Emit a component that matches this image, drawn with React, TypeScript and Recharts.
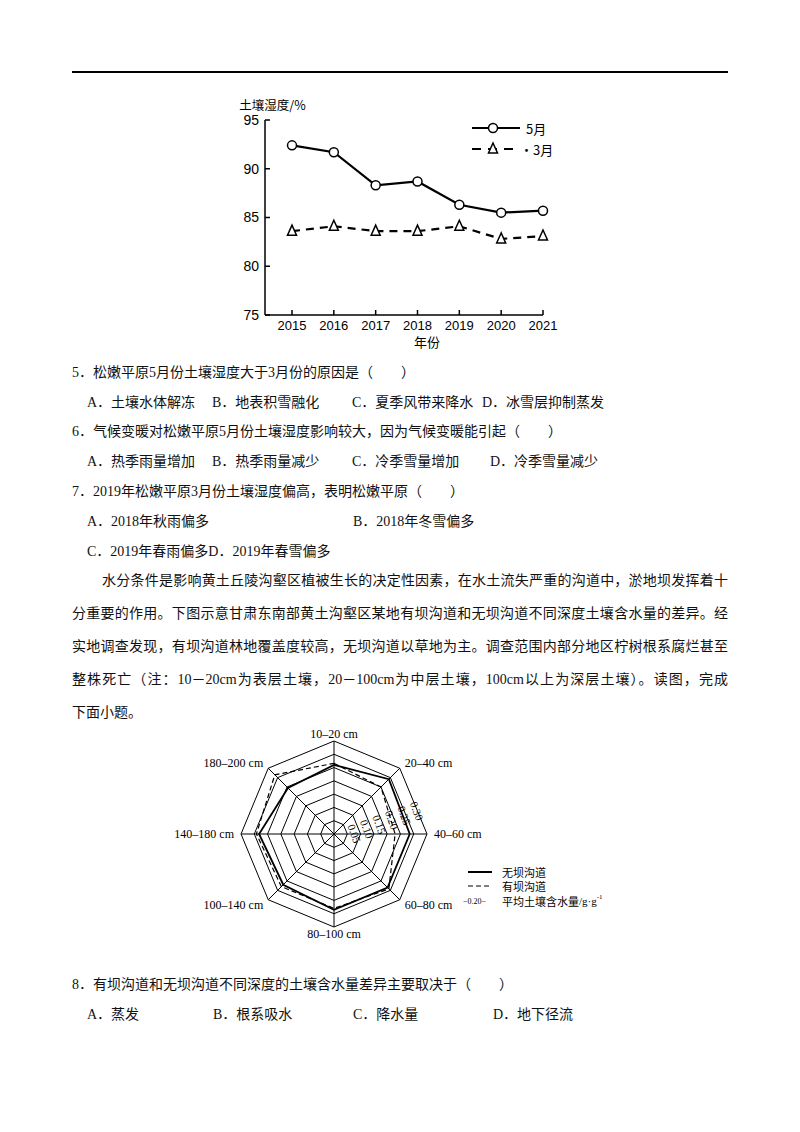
import React from 'react';
import {
  LineChart, Line, XAxis, YAxis, Legend, Label,
  RadarChart, Radar, PolarGrid, PolarAngleAxis, PolarRadiusAxis,
} from 'recharts';

// line chart: soil humidity in March / May
const years = ['2015', '2016', '2017', '2018', '2019', '2020', '2021'];
const mayHumidity = [92.4, 91.7, 88.3, 88.7, 86.3, 85.5, 85.7];
const marchHumidity = [83.6, 84.1, 83.6, 83.6, 84.1, 82.8, 83.1];
const humidityTicks = [75, 80, 85, 90, 95];

// radar chart: soil water content by depth
const depths = ['10–20 cm', '20–40 cm', '40–60 cm', '60–80 cm', '80–100 cm', '100–140 cm', '140–180 cm', '180–200 cm'];
const noDamWater = [0.26, 0.292, 0.285, 0.285, 0.285, 0.27, 0.282, 0.245];
const damWater = [0.266, 0.25, 0.23, 0.292, 0.28, 0.28, 0.292, 0.315];
const waterTicks = [0, 0.05, 0.1, 0.15, 0.2, 0.25, 0.3, 0.35];

const humidityData = years.map((year, i) => ({ year, may: mayHumidity[i], march: marchHumidity[i] }));
const waterData = depths.map((depth, i) => ({ depth, noDam: noDamWater[i], dam: damWater[i] }));

const SANS = "'Liberation Sans', Arial, sans-serif";
const SERIF = "'Liberation Serif', 'Times New Roman', serif";
const PAGE_FONT = "'Liberation Serif', 'Noto Sans CJK SC', serif";
const CJK = "'Noto Sans CJK SC', sans-serif";

const TriangleDot = (props: any) => {
  const { cx, cy } = props;
  if (cx == null || cy == null) return null;
  return (
    <polygon
      points={`${cx},${cy - 6} ${cx - 4.5},${cy + 4} ${cx + 4.5},${cy + 4}`}
      fill="#fff" stroke="#000" strokeWidth={1.5}
    />
  );
};

const lineLegend = () => (
  <svg width={90} height={42} style={{ overflow: 'visible' }}>
    <line x1={0} x2={48} y1={8} y2={8} stroke="#000" strokeWidth={2.2} />
    <circle cx={21} cy={8} r={4.5} fill="#fff" stroke="#000" strokeWidth={1.5} />
    <text x={54} y={8} dominantBaseline="central" fontSize={13} fontFamily={CJK}>5月</text>
    <line x1={0} x2={44} y1={29} y2={29} stroke="#000" strokeWidth={2.2} strokeDasharray="9 7" />
    <polygon points="21,23 16.5,33 25.5,33" fill="#fff" stroke="#000" strokeWidth={1.5} />
    <text x={48} y={29} dominantBaseline="central" fontSize={13} fontFamily={CJK}>·3月</text>
  </svg>
);

const radarLegend = () => (
  <svg width={180} height={44} style={{ overflow: 'visible' }}>
    <line x1={5} x2={29} y1={6} y2={6} stroke="#000" strokeWidth={2} />
    <text x={39} y={6} dominantBaseline="central" fontSize={11} fontFamily={CJK}>无坝沟道</text>
    <line x1={5} x2={29} y1={20} y2={20} stroke="#000" strokeWidth={1.2} strokeDasharray="5 3" />
    <text x={39} y={20} dominantBaseline="central" fontSize={11} fontFamily={CJK}>有坝沟道</text>
    <text x={0} y={35} dominantBaseline="central" fontSize={8} fontFamily={SERIF}>−0.20−</text>
    <text x={39} y={35} dominantBaseline="central" fontSize={11} fontFamily={CJK}>
      平均土壤含水量<tspan fontFamily={SERIF}>/g·g</tspan><tspan dy={-4} fontSize={7} fontFamily={SERIF}>-1</tspan>
    </text>
  </svg>
);

const DepthTick = (props: any) => {
  const { x, y, textAnchor, payload } = props;
  return (
    <text x={x} y={y} textAnchor={textAnchor} dominantBaseline="central"
      fontSize={12} fontFamily={SERIF} fill="#000">
      {payload.value}
    </text>
  );
};

const WaterTick = (props: any) => {
  const { x, y, transform, payload } = props;
  const v = Number(payload.value);
  if (v <= 0 || v > 0.31) return null;
  return (
    <text x={x} y={y} transform={transform} textAnchor="start" dx={-3} dy={-2}
      fontSize={11} fontFamily={SERIF} fill="#000">
      {v.toFixed(2)}
    </text>
  );
};

const Txt = ({ x, y, children }: { x: number; y: number; children: React.ReactNode }) => (
  <div style={{ position: 'absolute', left: x, top: y - 10, lineHeight: '20px', whiteSpace: 'nowrap' }}>
    {children}
  </div>
);

const JLine = ({ x, y, w, last, children }: { x: number; y: number; w: number; last?: boolean; children: React.ReactNode }) => (
  <div style={{
    position: 'absolute', left: x, top: y - 10, width: w, lineHeight: '20px',
    textAlign: last ? 'left' : 'justify', textAlignLast: last ? 'left' : 'justify',
  }}>
    {children}
  </div>
);

export default function App() {
  return (
    <div style={{ position: 'relative', width: 800, height: 1132, background: '#fff', color: '#111', fontFamily: PAGE_FONT, fontSize: 14 }}>
      <style>{'body{margin:0}'}</style>
      <div style={{ position: 'absolute', left: 72, top: 71, width: 656, height: 2, background: '#000' }} />

      <div style={{ position: 'absolute', left: 200, top: 95 }}>
        <LineChart width={380} height={260} data={humidityData} margin={{ top: 25, right: 37, bottom: 10, left: 0 }}>
          <XAxis dataKey="year" height={30} padding={{ left: 27, right: 0 }} interval={0}
            axisLine={{ stroke: '#000', strokeWidth: 1.5 }} tickLine={{ stroke: '#000', strokeWidth: 1.5 }}
            tickSize={-5} tickMargin={11} tick={{ fill: '#000', fontSize: 13, fontFamily: SANS }}>
            <Label value="年份" position="insideBottom" offset={-2} dx={23} fontSize={13} fontFamily={CJK} fill="#000" />
          </XAxis>
          <YAxis width={65} domain={[75, 95]} ticks={humidityTicks} interval={0}
            axisLine={{ stroke: '#000', strokeWidth: 1.5 }} tickLine={{ stroke: '#000', strokeWidth: 1.5 }}
            tickSize={-5} tickMargin={11} tick={{ fill: '#000', fontSize: 14, fontFamily: SANS }}>
            <Label value="土壤湿度/%" position="top" offset={10} dx={40} fontSize={12.5} fontFamily={CJK} fill="#000" />
          </YAxis>
          <Legend content={lineLegend} verticalAlign="middle" layout="horizontal"
            wrapperStyle={{ left: 272, top: 25, width: 100 }} />
          <Line dataKey="may" name="5月" stroke="#000" strokeWidth={2.2} isAnimationActive={false}
            dot={{ r: 4.5, fill: '#fff', stroke: '#000', strokeWidth: 1.5 }} />
          <Line dataKey="march" name="3月" stroke="#000" strokeWidth={2.2} strokeDasharray="8 6"
            isAnimationActive={false} dot={<TriangleDot />} />
        </LineChart>
      </div>

      <Txt x={72} y={373}>5．松嫩平原5月份土壤湿度大于3月份的原因是（　　）</Txt>
      <Txt x={87} y={403}>A．土壤水体解冻</Txt>
      <Txt x={212} y={403}>B．地表积雪融化</Txt>
      <Txt x={352} y={403}>C．夏季风带来降水</Txt>
      <Txt x={482} y={403}>D．冰雪层抑制蒸发</Txt>
      <Txt x={72} y={432}>6．气候变暖对松嫩平原5月份土壤湿度影响较大，因为气候变暖能引起（　　）</Txt>
      <Txt x={87} y={462}>A．热季雨量增加</Txt>
      <Txt x={212} y={462}>B．热季雨量减少</Txt>
      <Txt x={352} y={462}>C．冷季雪量增加</Txt>
      <Txt x={490} y={462}>D．冷季雪量减少</Txt>
      <Txt x={72} y={492}>7．2019年松嫩平原3月份土壤湿度偏高，表明松嫩平原（　　）</Txt>
      <Txt x={87} y={522}>A．2018年秋雨偏多</Txt>
      <Txt x={353} y={522}>B．2018年冬雪偏多</Txt>
      <Txt x={87} y={552}>C．2019年春雨偏多D．2019年春雪偏多</Txt>

      <JLine x={102} y={581} w={626}>水分条件是影响黄土丘陵沟壑区植被生长的决定性因素，在水土流失严重的沟道中，淤地坝发挥着十</JLine>
      <JLine x={72} y={614} w={656}>分重要的作用。下图示意甘肃东南部黄土沟壑区某地有坝沟道和无坝沟道不同深度土壤含水量的差异。经</JLine>
      <JLine x={72} y={647} w={656}>实地调查发现，有坝沟道林地覆盖度较高，无坝沟道以草地为主。调查范围内部分地区柠树根系腐烂甚至</JLine>
      <JLine x={72} y={680} w={656}>整株死亡（注：10－20cm为表层土壤，20－100cm为中层土壤，100cm以上为深层土壤）。读图，完成</JLine>
      <JLine x={72} y={713} w={656} last>下面小题。</JLine>

      <div style={{ position: 'absolute', left: 160, top: 715 }}>
        <RadarChart width={480} height={240} data={waterData} cx={174} cy={119} outerRadius={93}
          margin={{ top: 0, right: 0, bottom: 0, left: 0 }}>
          <PolarGrid gridType="polygon" stroke="#000" strokeWidth={1} />
          <PolarAngleAxis dataKey="depth" axisLine={false} tickLine={false} tickSize={7} tick={<DepthTick />} />
          <PolarRadiusAxis angle={20} domain={[0, 0.35]} ticks={waterTicks} tickCount={8}
            axisLine={false} tickLine={false} tick={<WaterTick />} />
          <Legend content={radarLegend} verticalAlign="middle" layout="horizontal"
            wrapperStyle={{ left: 303, top: 151, width: 180 }} />
          <Radar dataKey="noDam" name="无坝沟道" stroke="#000" strokeWidth={1.8} fill="none"
            fillOpacity={0} isAnimationActive={false} />
          <Radar dataKey="dam" name="有坝沟道" stroke="#000" strokeWidth={1.2} strokeDasharray="5 3"
            fill="none" fillOpacity={0} isAnimationActive={false} />
        </RadarChart>
      </div>

      <Txt x={72} y={985}>8．有坝沟道和无坝沟道不同深度的土壤含水量差异主要取决于（　　）</Txt>
      <Txt x={87} y={1015}>A．蒸发</Txt>
      <Txt x={213} y={1015}>B．根系吸水</Txt>
      <Txt x={353} y={1015}>C．降水量</Txt>
      <Txt x={493} y={1015}>D．地下径流</Txt>
    </div>
  );
}
